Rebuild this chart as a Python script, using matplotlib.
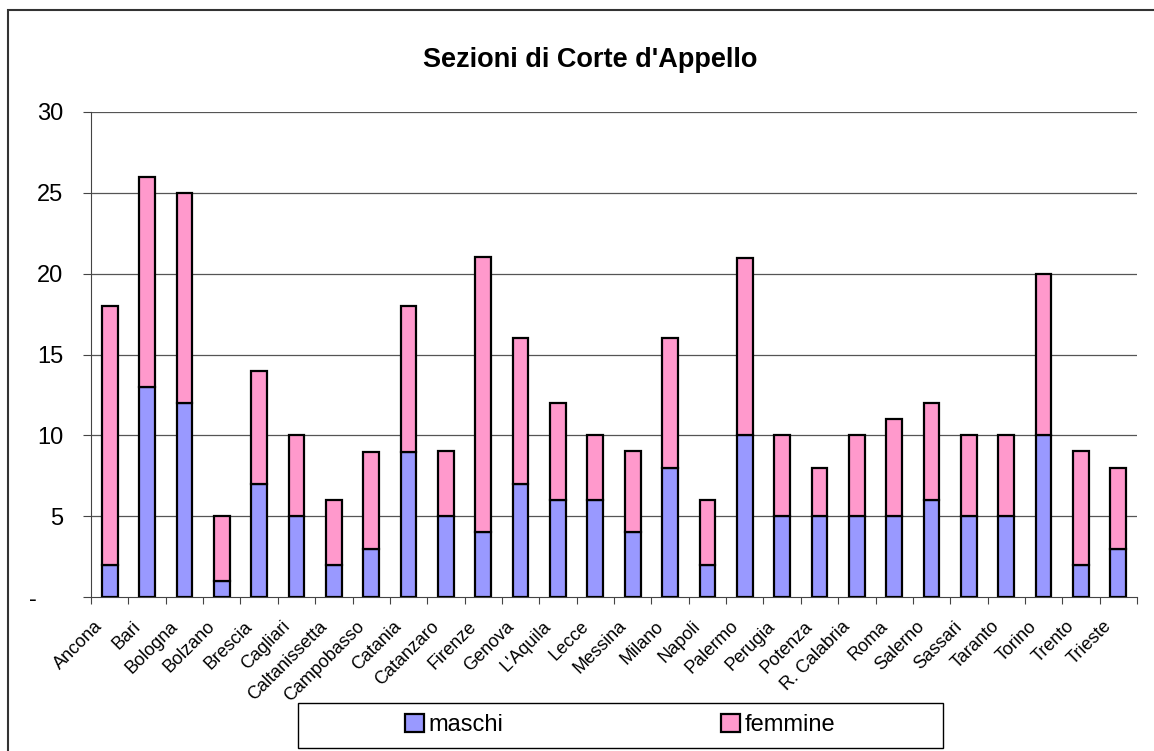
import matplotlib.pyplot as plt
import numpy as np
from matplotlib.patches import Rectangle

plt.rcParams['font.family'] = ['Liberation Sans', 'DejaVu Sans']

citta = ['Ancona', 'Bari', 'Bologna', 'Bolzano', 'Brescia', 'Cagliari',
         'Caltanissetta', 'Campobasso', 'Catania', 'Catanzaro', 'Firenze',
         'Genova', "L'Aquila", 'Lecce', 'Messina', 'Milano', 'Napoli',
         'Palermo', 'Perugia', 'Potenza', 'R. Calabria', 'Roma', 'Salerno',
         'Sassari', 'Taranto', 'Torino', 'Trento', 'Trieste']
maschi = [2, 13, 12, 1, 7, 5, 2, 3, 9, 5, 4, 7, 6, 6, 4, 8, 2, 10, 5, 5,
          5, 5, 6, 5, 5, 10, 2, 3]
femmine = [16, 13, 13, 4, 7, 5, 4, 6, 9, 4, 17, 9, 6, 4, 5, 8, 4, 11, 5, 3,
           5, 6, 6, 5, 5, 10, 7, 5]
yticks = [0, 5, 10, 15, 20, 25, 30]

W, H = 1154, 751
fig = plt.figure(figsize=(W / 100, H / 100), dpi=100)
ax = fig.add_axes([91 / W, 1 - 597 / H, (1137 - 91) / W, (597 - 112) / H])

# outer chart frame (runs off right and bottom edge)
fig.patches.append(Rectangle((8 / W, -0.05), 1.2, 1 - 10 / H + 0.05,
                             transform=fig.transFigure, fill=False,
                             edgecolor='#333333', linewidth=1.5))

x = np.arange(len(citta))
ax.bar(x, maschi, width=0.42, color='#9999FF', edgecolor='black',
       linewidth=1.6, label='maschi', zorder=3)
ax.bar(x, femmine, width=0.42, bottom=maschi, color='#FF99CC',
       edgecolor='black', linewidth=1.6, label='femmine', zorder=3)

ax.set_xlim(-0.5, len(citta) - 0.5)
ax.set_ylim(0, 30)
ax.set_yticks(yticks)
ax.set_yticklabels(['-    '] + [str(v) for v in yticks[1:]], fontsize=17)
for v in yticks[1:]:
    ax.axhline(v, color='#555555', linewidth=0.9, zorder=1)

ax.set_xticks(np.arange(len(citta) + 1) - 0.5)
ax.set_xticklabels([])
ax.tick_params(axis='x', length=5, direction='out', color='#444444')
ax.tick_params(axis='y', length=6, direction='out', color='#444444', pad=14)
for i, c in enumerate(citta):
    ax.annotate(c, xy=(i, 0), xycoords=('data', 'axes fraction'),
                xytext=(-11, -15), textcoords='offset points',
                rotation=45, ha='right', va='top', rotation_mode='anchor',
                fontsize=13)

for s in ['top', 'right']:
    ax.spines[s].set_visible(False)
ax.spines['left'].set_color('#444444')
ax.spines['bottom'].set_color('#444444')

fig.text(590 / W, 1 - 60 / H, "Sezioni di Corte d'Appello", ha='center',
         va='center', fontsize=19.5, fontweight='bold')

# legend box drawn separately, entries centred inside it
fig.patches.append(Rectangle((298 / W, 1 - 748 / H), (943 - 298) / W, 45 / H,
                             transform=fig.transFigure, fill=False,
                             edgecolor='black', linewidth=1.0))
fig.legend(loc='center', bbox_to_anchor=(620 / W, 1 - 725 / H), ncol=2,
           fontsize=17, frameon=False, handlelength=0.8, handleheight=0.8,
           handletextpad=0.2, columnspacing=9.2)

fig.savefig('out.png', dpi=100, facecolor='white')
